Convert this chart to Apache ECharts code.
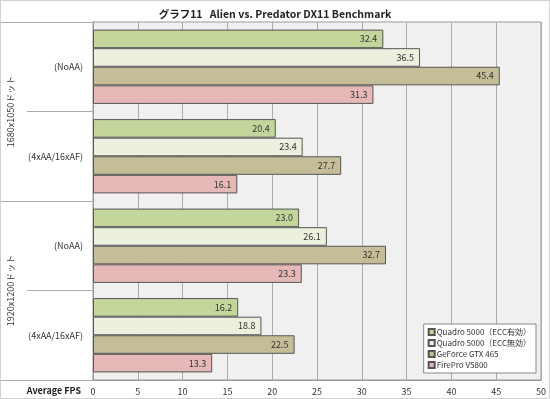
<!DOCTYPE html>
<html>
<head>
<meta charset="utf-8">
<script src="https://cdn.jsdelivr.net/npm/echarts@6/dist/echarts.min.js"></script>
<style>
html, body { margin: 0; padding: 0; background: #fff; }
#container { width: 548px; height: 397px; border: 1px solid #d0d0d0; }
</style>
</head>
<body>
<div id="container"></div>
<script>
var dom = document.getElementById("container");
var myChart = echarts.init(dom);

// resolution groups and settings, top to bottom
var resolutions = ['1680x1050ドット', '1920x1200ドット'];
var categories = ['1680x1050 (NoAA)', '1680x1050 (4xAA/16xAF)', '1920x1200 (NoAA)', '1920x1200 (4xAA/16xAF)'];
var settingLabels = ['(NoAA)', '(4xAA/16xAF)', '(NoAA)', '(4xAA/16xAF)'];

var seriesNames = ['Quadro 5000（ECC有効）', 'Quadro 5000（ECC無効）', 'GeForce GTX 465', 'FirePro V5800'];
var quadroEccOn = [32.4, 20.4, 23.0, 16.2];
var quadroEccOff = [36.5, 23.4, 26.1, 18.8];
var gtx465 = [45.4, 27.7, 32.7, 22.5];
var firePro = [31.3, 16.1, 23.3, 13.3];
var xTicks = [0, 5, 10, 15, 20, 25, 30, 35, 40, 45, 50];

var colors = ['#c3d69b', '#ebf1de', '#c4bd97', '#e6b9b8'];
var values = [quadroEccOn, quadroEccOff, gtx465, firePro];
var font = 'Noto Sans CJK JP';

var series = [];
for (var i = 0; i < seriesNames.length; i++) {
    series.push({
        name: seriesNames[i],
        type: 'bar',
        yAxisIndex: 0,
        data: values[i],
        barGap: '0%',
        barCategoryGap: '17%',
        itemStyle: {
            color: colors[i],
            borderColor: '#555',
            borderWidth: 1
        },
        label: {
            show: true,
            position: 'insideRight',
            distance: 6,
            fontSize: 9,
            fontFamily: font,
            color: '#333',
            formatter: function (p) { return p.value.toFixed(1); }
        }
    });
}

myChart.setOption({
    animation: false,
    textStyle: { fontFamily: font },
    title: {
        text: 'グラフ11   Alien vs. Predator DX11 Benchmark',
        left: 'center',
        top: 3,
        textStyle: { fontSize: 10.5, fontWeight: 'bold', color: '#222', fontFamily: font }
    },
    legend: {
        orient: 'vertical',
        right: 13,
        bottom: 25,
        backgroundColor: '#fff',
        borderColor: '#888',
        borderWidth: 1,
        padding: [4, 5, 4, 4],
        itemWidth: 6,
        itemHeight: 6,
        itemGap: 3,
        icon: 'rect',
        textStyle: { fontSize: 8, color: '#333', padding: [0, 0, 0, -3] },
        data: seriesNames
    },
    grid: {
        left: 92,
        right: 8,
        top: 21,
        bottom: 18,
        show: true,
        backgroundColor: '#f0f0f0',
        borderColor: '#999',
        borderWidth: 1
    },
    xAxis: {
        type: 'value',
        min: xTicks[0],
        max: xTicks[xTicks.length - 1],
        interval: 5,
        axisLine: { show: true, lineStyle: { color: '#999' } },
        axisTick: { show: false },
        splitLine: { show: true, lineStyle: { color: '#aaa' } },
        axisLabel: { fontSize: 9, color: '#333', margin: 7 },
        name: 'Average FPS',
        nameLocation: 'start',
        nameGap: 12,
        nameTextStyle: { fontSize: 9, fontWeight: 'bold', color: '#222', verticalAlign: 'top', padding: [6, 0, 0, 0] }
    },
    yAxis: [{
        type: 'category',
        inverse: true,
        data: categories,
        axisLine: { show: true, lineStyle: { color: '#999' } },
        axisTick: { show: true, length: 66, interval: 0, lineStyle: { color: '#aaa' } },
        axisLabel: {
            fontSize: 9,
            color: '#333',
            margin: 10,
            formatter: function (v, idx) { return settingLabels[idx]; }
        }
    }, {
        type: 'category',
        inverse: true,
        position: 'left',
        data: resolutions,
        axisLine: { show: false },
        axisTick: { show: true, length: 92, interval: 0, lineStyle: { color: '#aaa' } },
        axisLabel: { fontSize: 9, color: '#333', rotate: 90, margin: 78 }
    }],
    series: series
});
</script>
</body>
</html>
